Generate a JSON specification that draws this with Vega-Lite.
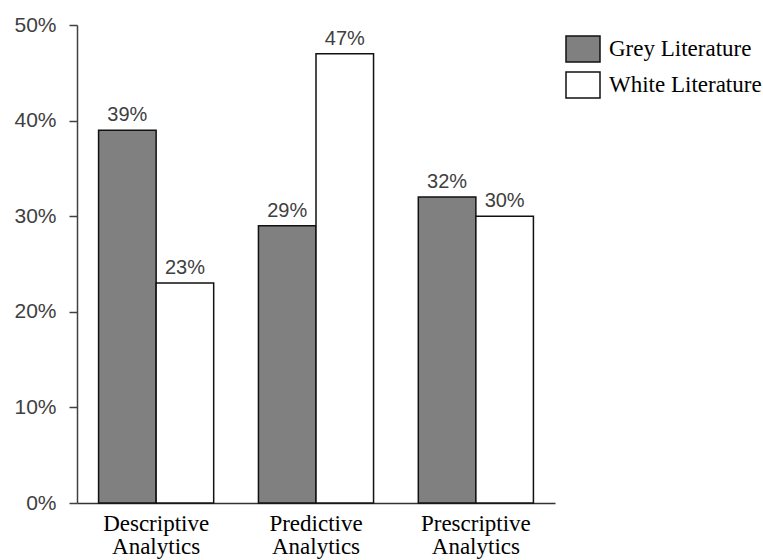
{
  "$schema": "https://vega.github.io/schema/vega-lite/v6.json",
  "width": 478,
  "height": 478,
  "autosize": {"type": "none"},
  "padding": {"left": 77, "top": 25, "right": 208, "bottom": 57},
  "background": "white",
  "config": {"view": {"stroke": null}},
  "data": {
    "values": [
      {"category": "Descriptive Analytics", "source": "Grey Literature", "share": 0.39},
      {"category": "Descriptive Analytics", "source": "White Literature", "share": 0.23},
      {"category": "Predictive Analytics", "source": "Grey Literature", "share": 0.29},
      {"category": "Predictive Analytics", "source": "White Literature", "share": 0.47},
      {"category": "Prescriptive Analytics", "source": "Grey Literature", "share": 0.32},
      {"category": "Prescriptive Analytics", "source": "White Literature", "share": 0.30}
    ]
  },
  "encoding": {
    "x": {
      "field": "category",
      "type": "nominal",
      "sort": ["Descriptive Analytics", "Predictive Analytics", "Prescriptive Analytics"],
      "scale": {"paddingInner": 0.28, "paddingOuter": 0.135},
      "axis": {
        "title": null,
        "ticks": false,
        "labelAngle": 0,
        "labelExpr": "split(datum.label, ' ')",
        "labelFont": "Liberation Serif",
        "labelFontSize": 23,
        "labelColor": "#000000",
        "labelLineHeight": 23,
        "labelPadding": 9,
        "domainColor": "#333333",
        "domainWidth": 1.5
      }
    },
    "xOffset": {"field": "source", "type": "nominal", "sort": ["Grey Literature", "White Literature"]},
    "y": {
      "field": "share",
      "type": "quantitative",
      "scale": {"domain": [0, 0.5]},
      "axis": {
        "title": null,
        "grid": false,
        "format": ".0%",
        "values": [0, 0.1, 0.2, 0.3, 0.4, 0.5],
        "tickSize": 8,
        "tickColor": "#404040",
        "tickWidth": 1.5,
        "domainColor": "#404040",
        "domainWidth": 1.5,
        "labelPadding": 13,
        "labelFont": "Liberation Sans",
        "labelFontSize": 21,
        "labelColor": "#404040"
      }
    }
  },
  "layer": [
    {
      "mark": {"type": "bar", "stroke": "#111111", "strokeWidth": 1.5},
      "encoding": {
        "fill": {
          "field": "source",
          "type": "nominal",
          "scale": {"domain": ["Grey Literature", "White Literature"], "range": ["#808080", "#ffffff"]},
          "legend": {
            "title": null,
            "orient": "none",
            "legendX": 488,
            "legendY": 6,
            "padding": 0,
            "symbolType": "M-1,-0.76H1V0.76H-1Z",
            "symbolSize": 1156,
            "symbolStrokeColor": "#111111",
            "symbolStrokeWidth": 1.5,
            "rowPadding": 2,
            "labelOffset": 8,
            "labelFont": "Liberation Serif",
            "labelFontSize": 23,
            "labelColor": "#000000",
            "labelLimit": 300
          }
        }
      }
    },
    {
      "mark": {
        "type": "text",
        "baseline": "alphabetic",
        "dy": -9,
        "font": "Liberation Sans",
        "fontSize": 20,
        "fill": "#404040"
      },
      "encoding": {
        "text": {"field": "share", "type": "quantitative", "format": ".0%"}
      }
    }
  ]
}
